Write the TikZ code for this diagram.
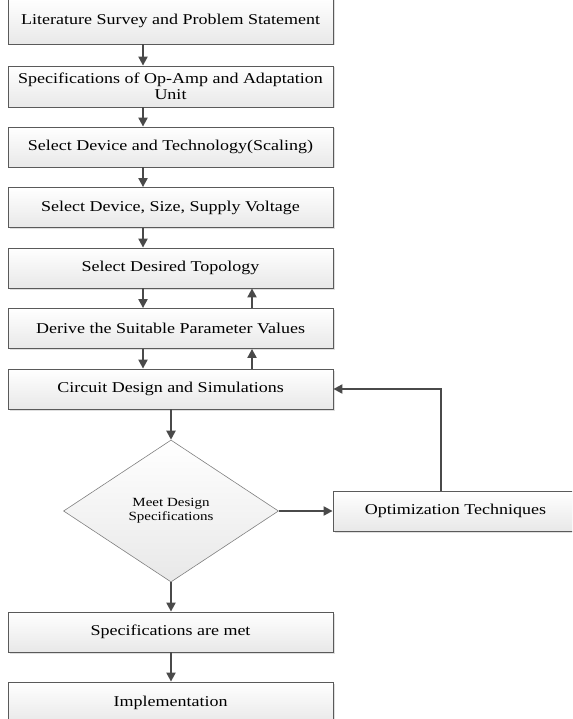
\documentclass[tikz,border=0pt]{standalone}
\usepackage{fontspec}
\setmainfont{Liberation Serif}[FakeStretch=1.2]
\usetikzlibrary{arrows.meta,shapes.geometric,shadows}
\definecolor{edgegray}{HTML}{5A5A5A}
\definecolor{arrowgray}{HTML}{4A4A4A}
\tikzset{
  stepbox/.style={draw=edgegray, line width=0.8pt, top color=white, bottom color=black!9,
    minimum width=325pt, minimum height=40pt, inner sep=0pt, align=center,
    font=\fontsize{15}{16}\selectfont,
    drop shadow={opacity=0.25, shadow xshift=1.5pt, shadow yshift=-1.5pt}},
  decbox/.style={diamond, draw=black!50, line width=0.6pt, top color=white, bottom color=black!9,
    minimum width=215pt, minimum height=142pt, inner sep=0pt, align=center,
    font=\fontsize{12.5}{14}\selectfont},
  flow/.style={draw=arrowgray, line width=2pt, -{Triangle[length=9pt,width=9pt]}}
}
\begin{document}
\begin{tikzpicture}[x=1pt,y=-1pt]
\useasboundingbox (0,0) rectangle (572,719);
\clip (0,0) rectangle (572,719);
\node[stepbox, minimum height=46pt] (b1) at (170.5,21) {Literature Survey and Problem Statement};
\node[stepbox, minimum height=41pt] (b2) at (170.5,86.5) {Specifications of Op-Amp and Adaptation\\Unit};
\node[stepbox] (b3) at (170.5,147) {Select Device and Technology(Scaling)};
\node[stepbox] (b4) at (170.5,207.5) {Select Device, Size, Supply Voltage};
\node[stepbox] (b5) at (170.5,268) {Select Desired Topology};
\node[stepbox] (b6) at (170.5,328.5) {Derive the Suitable Parameter Values};
\node[stepbox] (b7) at (170.5,389) {Circuit Design and Simulations};
\node[decbox] (d) at (171,511) {Meet Design\\Specifications};
\node[stepbox, minimum width=245pt] (opt) at (455.5,511) {Optimization Techniques};
\node[stepbox] (b8) at (170.5,632) {Specifications are met};
\node[stepbox, minimum height=42pt] (b9) at (170.5,703) {Implementation};
\coordinate (corner) at (441,389);
% connectors
\draw[flow] (b1.south -| 143,0) -- (b2.north -| 143,0);
\draw[flow] (b2.south -| 143,0) -- (b3.north -| 143,0);
\draw[flow] (b3.south -| 143,0) -- (b4.north -| 143,0);
\draw[flow] (b4.south -| 143,0) -- (b5.north -| 143,0);
\draw[flow] (b5.south -| 143,0) -- (b6.north -| 143,0);
\draw[flow] (b6.north -| 252,0) -- (b5.south -| 252,0);
\draw[flow] (b6.south -| 143,0) -- (b7.north -| 143,0);
\draw[flow] (b7.north -| 252,0) -- (b6.south -| 252,0);
\draw[flow] (b7.south -| d.north) -- (d.north);
\draw[flow] (d.east) -- (opt.west);
\draw[flow] (opt.north -| corner) -- (corner) -- (b7.east);
\draw[flow] (d.south) -- (b8.north -| d.south);
\draw[flow] (b8.south -| d.south) -- (b9.north -| d.south);
\end{tikzpicture}
\end{document}
